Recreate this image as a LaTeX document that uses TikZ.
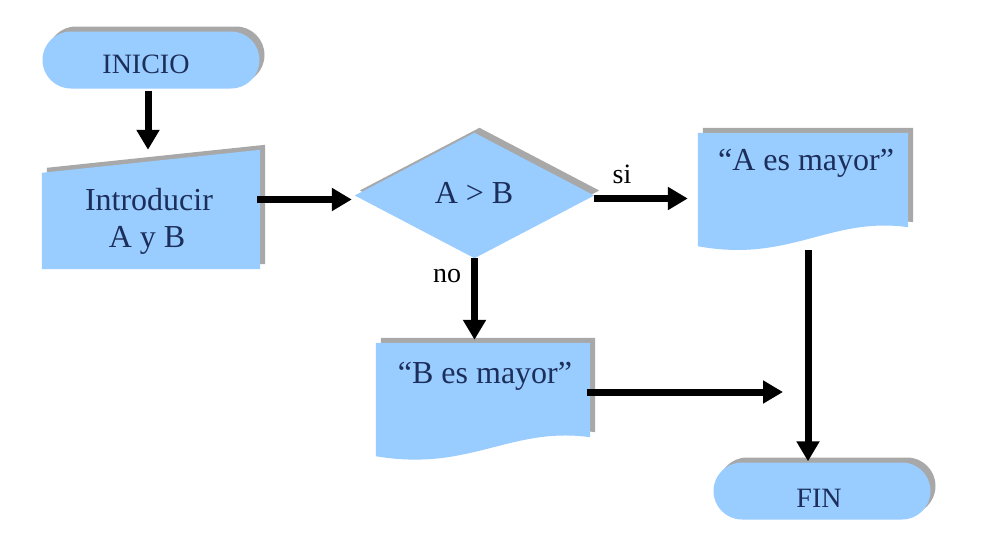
\documentclass[tikz,border=0pt]{standalone}
\usepackage{fontspec}
\setmainfont{Liberation Serif}
\usetikzlibrary{arrows.meta,shapes.misc,shadows,calc}
\definecolor{boxblue}{HTML}{99CCFF}
\definecolor{boxshade}{HTML}{A8A8A8}
\definecolor{ink}{HTML}{1C2E5A}
\tikzset{
  shade box/.style={fill=boxblue, draw=none,
    drop shadow={shadow xshift=5pt, shadow yshift=5pt, fill=boxshade, opacity=1}},
  holder/.style={rectangle, draw=none, inner sep=0pt},
  terminal/.style={rounded rectangle, shade box, inner sep=0pt,
    minimum width=217pt, minimum height=57pt},
  txt/.style={anchor=base, inner sep=0pt, text=ink, font=\fontsize{32}{37}\selectfont},
  termtxt/.style={txt, font=\fontsize{28}{32}\selectfont},
  lbl/.style={anchor=base, inner sep=0pt, text=black, font=\fontsize{28}{32}\selectfont},
  arr/.style={line width=7pt, draw=black, -{Triangle[length=20pt,width=22pt]}}
}
\begin{document}
\begin{tikzpicture}[x=1pt,y=-1pt]
\useasboundingbox[fill=white] (0,0) rectangle (1004,541);

% terminators
\node[terminal] (ini) at (151,60) {};
\node[terminal] (fin) at (822,491) {};

% frames for the other symbols
\node[holder, minimum width=218pt, minimum height=119pt] (intro) at (151,209.5) {};
\node[holder, minimum width=239pt, minimum height=125pt] (dec) at (474.5,195.5) {};
\node[holder, minimum width=210pt, minimum height=115pt] (amay) at (803,190.5) {};
\node[holder, minimum width=214pt, minimum height=114pt] (bmay) at (483,400) {};

% manual input
\fill[shade box] ([yshift=-23pt]intro.north west) -- (intro.north east)
  -- (intro.south east) -- (intro.south west) -- cycle;

% decision
\fill[shade box] (dec.west) -- (dec.north) -- (dec.east) -- (dec.south) -- cycle;

% documents with wavy lower edge
\fill[shade box] (amay.north west) -- (amay.north east)
  -- ($(amay.south east)+(0,-21)$)
  .. controls ($(amay.south east)+(-78,-32)$) and ($(amay.south west)+(92,15)$)
  .. ($(amay.south west)+(0,-2)$) -- cycle;
\fill[shade box] (bmay.north west) -- (bmay.north east)
  -- ($(bmay.south east)+(0,-20)$)
  .. controls ($(bmay.south east)+(-80,-31)$) and ($(bmay.south west)+(94,15)$)
  .. ($(bmay.south west)+(0,-1)$) -- cycle;

% texts
\node[termtxt] (initxt) at (146,73) {INICIO};
\node[termtxt] (fintxt) at (819,507) {FIN};
\node[txt] (introtxt1) at (149,210) {Introducir};
\node[txt] (introtxt2) at (147,247) {A y B};
\node[txt] (dectxt) at (474,203) {A > B};
\node[txt] (amaytxt) at (806,170) {“A es mayor”};
\node[txt] (bmaytxt) at (485,383) {“B es mayor”};
\node[lbl] (si) at (622,183) {si};
\node[lbl] (no) at (447,282) {no};

% connectors
\coordinate (merge) at (783,392);
\draw[arr, shorten <=2pt] ([xshift=-3pt]ini.south) -- ([xshift=-3pt]intro.north);
\draw[arr, shorten <=-3pt, shorten >=3pt] ([yshift=-4pt]intro.east |- dec.west) -- ([yshift=-4pt]dec.west);
\draw[arr, shorten >=10pt] ([yshift=-3pt]dec.east) -- ([yshift=-3pt]dec.east -| amay.west);
\draw[arr, shorten >=3pt] (dec.south) -- (dec.south |- bmay.north);
\draw[arr, shorten <=-3pt] (bmay.east |- merge) -- (merge);
\draw[arr, shorten <=2pt, shorten >=1pt] ([xshift=5pt]amay.south) -- ([xshift=5pt]amay.south |- fin.north);
\end{tikzpicture}
\end{document}
